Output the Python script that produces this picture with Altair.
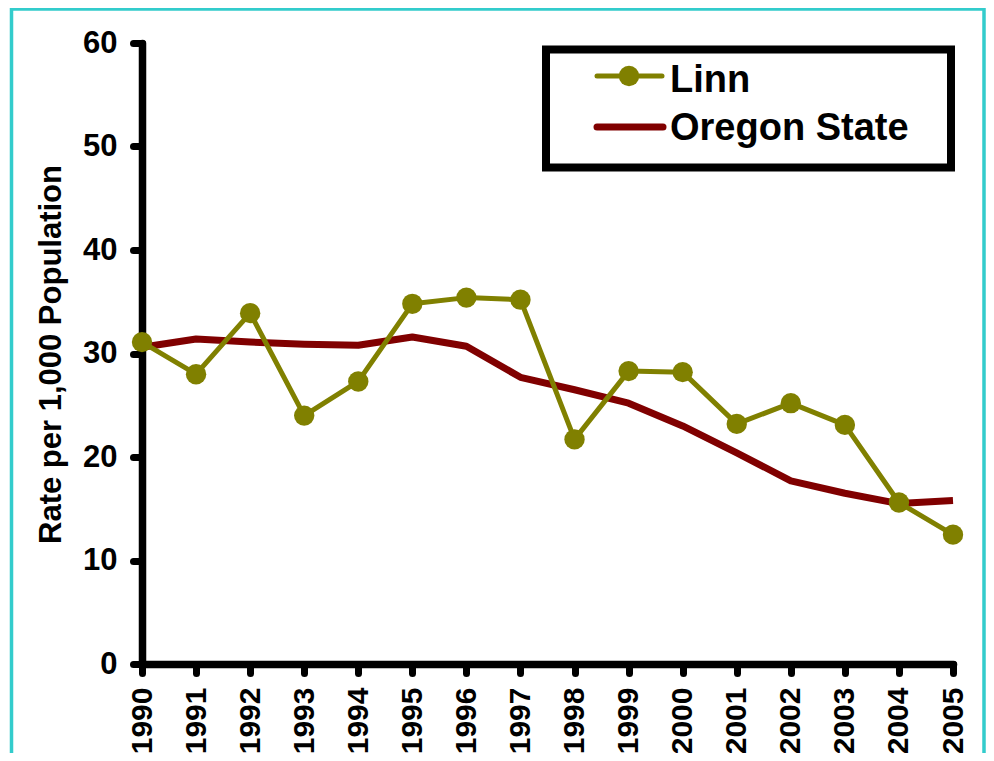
import altair as alt
import pandas as pd

years = list(range(1990, 2006))
linn = [31.1, 28.0, 33.9, 24.0, 27.3, 34.8, 35.4, 35.2, 21.7, 28.3, 28.2, 23.2, 25.2, 23.1, 15.6, 12.5]
oregon = [30.6, 31.4, 31.1, 30.9, 30.8, 31.6, 30.7, 27.7, 26.5, 25.2, 23.0, 20.4, 17.7, 16.5, 15.5, 15.8]
series_names = ["Linn", "Oregon State"]
series_colors = ["#808000", "#800000"]
y_title = "Rate per 1,000 Population"

df_linn = pd.DataFrame({"year": years, "rate": linn})
df_or = pd.DataFrame({"year": years, "rate": oregon})

FONT = "Liberation Sans"
W, H = 811, 621

x = alt.X("year:Q", scale=alt.Scale(domain=[1990, 2005], nice=False, zero=False),
          axis=alt.Axis(values=years, format="d", labelAngle=-90, labelFontSize=30,
                        labelFont=FONT, labelFontWeight="bold", labelColor="black",
                        labelPadding=14, tickSize=9, tickWidth=7, tickCap="round",
                        tickColor="black", domainWidth=7.5, domainColor="black",
                        domainCap="round", title=None, grid=False, labelOverlap=False,
                        labelAlign="right", labelBaseline="middle"))
y = alt.Y("rate:Q", scale=alt.Scale(domain=[0, 60], nice=False),
          axis=alt.Axis(values=[0, 10, 20, 30, 40, 50, 60], labelFontSize=31,
                        labelFont=FONT, labelFontWeight="bold", labelColor="black",
                        labelPadding=16, tickSize=9, tickWidth=7, tickCap="round",
                        tickColor="black", domainWidth=7.5, domainColor="black",
                        domainCap="round", grid=False, title=y_title,
                        titleFont=FONT, titleFontSize=31, titleFontWeight="bold",
                        titleColor="black", titleAngle=-90, titleX=-91, titleY=311,
                        titleAlign="center", titleBaseline="middle"))

oregon_line = alt.Chart(df_or).mark_line(color=series_colors[1], strokeWidth=7, strokeJoin="round").encode(x=x, y=y)
linn_line = alt.Chart(df_linn).mark_line(color=series_colors[0], strokeWidth=5, strokeJoin="round").encode(x=x, y=y)
linn_pts = alt.Chart(df_linn).mark_circle(color=series_colors[0], size=415, opacity=1).encode(x=x, y=y)

# decorative frame and legend
frame = alt.Chart(pd.DataFrame({"a": [0]})).mark_rect(
    fill=None, stroke="#33CCCC", strokeWidth=3.5
).encode(x=alt.value(-130.5), x2=alt.value(842), y=alt.value(-34), y2=alt.value(730))

leg_box = alt.Chart(pd.DataFrame({"a": [0]})).mark_rect(
    fill="white", stroke="black", strokeWidth=8
).encode(x=alt.value(404), x2=alt.value(809), y=alt.value(6.5), y2=alt.value(124.5))

leg_l1 = alt.Chart(pd.DataFrame({"a": [0]})).mark_rule(
    color=series_colors[0], strokeWidth=5, strokeCap="round"
).encode(x=alt.value(455), x2=alt.value(520), y=alt.value(33))
leg_p1 = alt.Chart(pd.DataFrame({"a": [0]})).mark_circle(
    color=series_colors[0], size=415, opacity=1
).encode(x=alt.value(487), y=alt.value(33))
leg_l2 = alt.Chart(pd.DataFrame({"a": [0]})).mark_rule(
    color=series_colors[1], strokeWidth=7, strokeCap="round"
).encode(x=alt.value(455), x2=alt.value(521), y=alt.value(84))
leg_t1 = alt.Chart(pd.DataFrame({"t": [series_names[0]]})).mark_text(
    font=FONT, fontSize=38, fontWeight="bold", align="left", baseline="alphabetic", color="black"
).encode(text="t:N", x=alt.value(528), y=alt.value(49))
leg_t2 = alt.Chart(pd.DataFrame({"t": [series_names[1]]})).mark_text(
    font=FONT, fontSize=38, fontWeight="bold", align="left", baseline="alphabetic", color="black"
).encode(text="t:N", x=alt.value(528), y=alt.value(97))

chart = alt.layer(
    frame, oregon_line, linn_line, linn_pts, leg_box, leg_l1, leg_p1, leg_l2, leg_t1, leg_t2
).properties(
    width=W, height=H,
    autosize=alt.AutoSizeParams(type="none"),
    padding={"left": 134, "top": 35, "right": 33, "bottom": 89},
    background="white",
).configure_view(stroke=None)

chart.save("out.html", embed_options={"renderer": "svg", "actions": False})
